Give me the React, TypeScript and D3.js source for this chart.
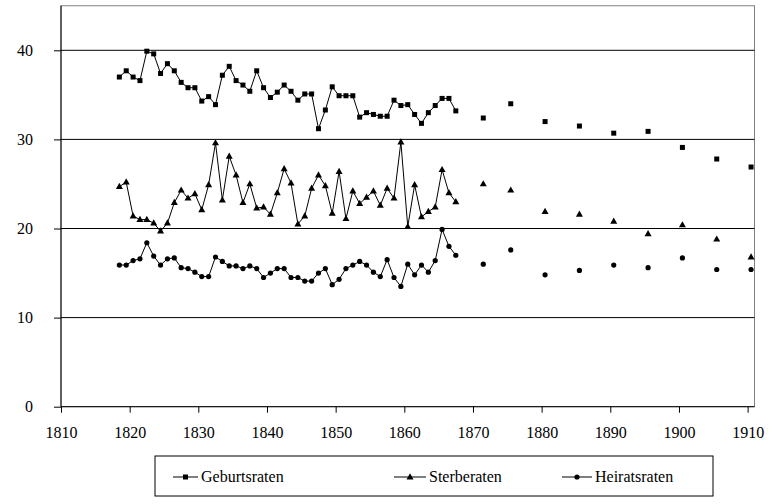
import React, { useEffect, useRef } from "react";
import * as d3 from "d3";

// annual series 1818-1867, then five-year points
const years = d3.range(1818, 1868);
const lateYears = [1871, 1875, 1880, 1885, 1890, 1895, 1900, 1905, 1910];

const geburt = [
  37.0, 37.7, 37.0, 36.6, 39.9, 39.6, 37.4, 38.5, 37.7, 36.4,
  35.8, 35.8, 34.3, 34.8, 33.9, 37.2, 38.2, 36.6, 36.1, 35.4,
  37.7, 35.8, 34.7, 35.3, 36.1, 35.4, 34.4, 35.1, 35.1, 31.2,
  33.3, 35.9, 34.9, 34.9, 34.9, 32.5, 33.0, 32.8, 32.6, 32.6,
  34.4, 33.8, 33.9, 32.8, 31.8, 33.0, 33.8, 34.6, 34.6, 33.2,
];
const sterbe = [
  24.7, 25.2, 21.4, 21.0, 21.0, 20.6, 19.7, 20.6, 22.9, 24.3,
  23.4, 23.9, 22.1, 24.9, 29.6, 23.2, 28.1, 26.0, 22.9, 25.0,
  22.3, 22.4, 21.6, 24.0, 26.7, 25.1, 20.5, 21.4, 24.5, 26.0,
  24.8, 21.7, 26.4, 21.1, 24.2, 22.8, 23.5, 24.2, 22.6, 24.5,
  23.4, 29.7, 20.2, 24.9, 21.3, 21.9, 22.4, 26.6, 24.0, 23.0,
];
const heirat = [
  15.9, 15.9, 16.4, 16.6, 18.4, 16.9, 15.9, 16.6, 16.7, 15.6,
  15.5, 15.1, 14.6, 14.6, 16.8, 16.3, 15.8, 15.8, 15.5, 15.8,
  15.5, 14.5, 15.0, 15.5, 15.5, 14.5, 14.5, 14.1, 14.1, 15.0,
  15.5, 13.7, 14.3, 15.5, 15.9, 16.3, 15.9, 15.1, 14.6, 16.5,
  14.5, 13.5, 16.0, 14.8, 15.9, 15.1, 16.4, 19.9, 18.0, 17.0,
];
const geburtLate = [32.4, 34.0, 32.0, 31.5, 30.7, 30.9, 29.1, 27.8, 26.9];
const sterbeLate = [25.0, 24.3, 21.9, 21.6, 20.8, 19.4, 20.4, 18.8, 16.8];
const heiratLate = [16.0, 17.6, 14.8, 15.3, 15.9, 15.6, 16.7, 15.4, 15.4];

const seriesNames = ["Geburtsraten", "Sterberaten", "Heiratsraten"];
const yTicks = [0, 10, 20, 30, 40];
const xTicks = d3.range(1810, 1911, 10);

const W = 769, H = 504;
const FONT = "Liberation Serif, DejaVu Serif, Times New Roman, serif";

export default function App() {
  const svgRef = useRef<SVGSVGElement>(null);

  useEffect(() => {
    const svg = d3.select(svgRef.current);
    svg.selectAll("*").remove();

    const x = d3.scaleLinear().domain([1810, 1911]).range([61, 754.5]);
    const y = d3.scaleLinear().domain([0, 45]).range([406.7, 5.75]);
    const pos = (yr: number) => x(yr + 0.5); // rates plotted mid-year

    // plot frame
    svg.append("rect")
      .attr("x", x(1810)).attr("y", y(45))
      .attr("width", x(1911) - x(1810)).attr("height", y(0) - y(45))
      .attr("fill", "none").attr("stroke", "#808080");

    // gridlines
    svg.append("g").selectAll("line")
      .data(yTicks.filter((d) => d > 0))
      .enter().append("line")
      .attr("x1", x(1810)).attr("x2", x(1911))
      .attr("y1", (d) => y(d)).attr("y2", (d) => y(d))
      .attr("stroke", "#000");

    // axes
    const yAxis = svg.append("g")
      .attr("transform", `translate(${x(1810)},0)`)
      .call(d3.axisLeft(y).tickValues(yTicks).tickSize(7).tickPadding(21));
    const xAxis = svg.append("g")
      .attr("transform", `translate(0,${y(0)})`)
      .call(d3.axisBottom(x).tickValues(xTicks).tickSize(6).tickFormat(d3.format("d")).tickPadding(14));
    [yAxis, xAxis].forEach((a) => {
      a.attr("font-family", FONT).attr("font-size", 16);
      a.select(".domain").attr("stroke", "#000");
      a.selectAll("line").attr("stroke", "#000");
      a.selectAll("text").style("font-family", FONT).attr("fill", "#000");
    });
    yAxis.select(".domain").attr("d", `M0,${y(45)}V${y(0)}`);
    xAxis.select(".domain").attr("d", `M${x(1810)},0H${x(1911)}`);

    const line = d3.line<number>()
      .x((_, i) => pos(years[i]))
      .y((d) => y(d));

    const marks: Record<string, (g: any, cx: number, cy: number) => void> = {
      square: (g, cx, cy) => { g.append("rect").attr("x", cx - 2.5).attr("y", cy - 2.5).attr("width", 5).attr("height", 5).attr("fill", "#000"); },
      triangle: (g, cx, cy) => { g.append("path").attr("d", `M${cx},${cy - 3.8}L${cx + 3.5},${cy + 2.4}L${cx - 3.5},${cy + 2.4}Z`).attr("fill", "#000"); },
      circle: (g, cx, cy) => { g.append("circle").attr("cx", cx).attr("cy", cy).attr("r", 2.6).attr("fill", "#000"); },
    };

    const series = [
      { name: seriesNames[0], early: geburt, late: geburtLate, mark: "square" },
      { name: seriesNames[1], early: sterbe, late: sterbeLate, mark: "triangle" },
      { name: seriesNames[2], early: heirat, late: heiratLate, mark: "circle" },
    ];

    const plot = svg.append("g");
    series.forEach((s) => {
      plot.append("path").attr("d", line(s.early)).attr("fill", "none").attr("stroke", "#000").attr("stroke-width", 1);
      const g = plot.append("g");
      s.early.forEach((v, i) => marks[s.mark](g, pos(years[i]), y(v)));
      s.late.forEach((v, i) => marks[s.mark](g, pos(lateYears[i]), y(v)));
    });

    // legend
    const lg = svg.append("g");
    lg.append("rect").attr("x", 155).attr("y", 456).attr("width", 558).attr("height", 40)
      .attr("fill", "#fff").attr("stroke", "#000");
    const lineX = [173, 394, 562];
    const lineLen = [25, 32, 30];
    series.forEach((s, i) => {
      const g = lg.append("g");
      g.append("line").attr("x1", lineX[i]).attr("x2", lineX[i] + lineLen[i]).attr("y1", 477).attr("y2", 477).attr("stroke", "#000");
      marks[s.mark](g, lineX[i] + lineLen[i] / 2, 477);
      g.append("text").attr("x", lineX[i] + lineLen[i] + 3).attr("y", 482)
        .style("font-family", FONT).attr("font-size", 16).text(s.name);
    });
  }, []);

  return (
    <svg ref={svgRef} width={W} height={H} style={{ position: "absolute", left: 0, top: 0, background: "#fff" }} />
  );
}
